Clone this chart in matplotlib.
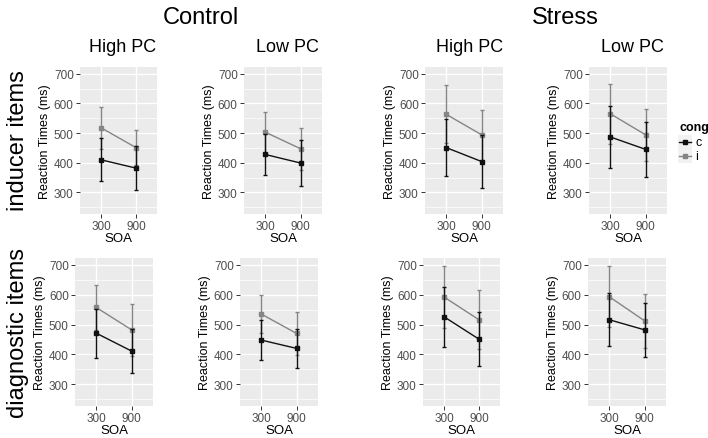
import matplotlib
matplotlib.use("Agg")
import matplotlib.pyplot as plt
from matplotlib.lines import Line2D
from matplotlib.patches import Rectangle

plt.rcParams['font.family'] = ['Liberation Sans', 'DejaVu Sans']

# SOA levels on the x axis
soa = ["300", "900"]
groups = ["Control", "Stress"]
pc_levels = ["High PC", "Low PC"]
row_names = ["inducer items", "diagnostic items"]
cong_levels = ["c", "i"]

# means / error half-widths, one pair per panel:
# Control-High, Control-Low, Stress-High, Stress-Low
inducer_c_mean = [[410, 382], [428, 399], [451, 404], [487, 445]]
inducer_c_err = [[72, 73], [70, 78], [96, 90], [103, 93]]
inducer_i_mean = [[518, 451], [503, 447], [563, 494], [565, 494]]
inducer_i_err = [[70, 60], [69, 71], [98, 85], [101, 88]]

diagnostic_c_mean = [[471, 411], [448, 420], [526, 451], [516, 482]]
diagnostic_c_err = [[82, 73], [67, 65], [101, 90], [88, 91]]
diagnostic_i_mean = [[557, 482], [535, 470], [592, 516], [593, 512]]
diagnostic_i_err = [[76, 87], [63, 73], [105, 99], [102, 91]]

y_ticks = [300, 400, 500, 600, 700]
y_minor = [250, 350, 450, 550, 650]

c_col = "#111111"
i_col = "#858585"

W, H = 708, 439
fig = plt.figure(figsize=(W / 100, H / 100), dpi=100)

# panel boxes in pixels (left, right), rows (top, bottom)
top_boxes = [(80, 157), (244, 322), (425, 503), (589, 667)]
bot_boxes = [(75, 153), (240, 318), (423, 500), (588, 666)]
row_y = [(68, 215), (259, 407)]

data = [
    (inducer_c_mean, inducer_c_err, inducer_i_mean, inducer_i_err),
    (diagnostic_c_mean, diagnostic_c_err, diagnostic_i_mean, diagnostic_i_err),
]


def fx(px):
    return px / W


def fy(py):
    return 1 - py / H


def add_panel(x0, x1, y0, y1):
    return fig.add_axes([fx(x0), fy(y1), (x1 - x0) / W, (y1 - y0) / H])


for r, boxes in enumerate([top_boxes, bot_boxes]):
    cm, ce, im, ie = data[r]
    for k, (x0, x1) in enumerate(boxes):
        ax = add_panel(x0, x1, *row_y[r])
        ax.set_facecolor("#EBEBEB")
        for s in ax.spines.values():
            s.set_visible(False)
        for v in y_minor:
            ax.axhline(v, color="white", lw=0.5, zorder=0)
        for v in y_ticks:
            ax.axhline(v, color="white", lw=1.0, zorder=0)
        for v in range(len(soa)):
            ax.axvline(v, color="white", lw=1.0, zorder=0)

        xs = list(range(len(soa)))
        ax.errorbar(xs, im[k], yerr=ie[k], color=i_col, lw=1.0, capsize=1.5,
                    capthick=1.0, marker="s", ms=3, zorder=3)
        ax.errorbar(xs, cm[k], yerr=ce[k], color=c_col, lw=1.0, capsize=1.5,
                    capthick=1.0, marker="s", ms=3, zorder=4)

        ax.set_xlim(-0.6, 1.6)
        ax.set_ylim(227.5, 722.5)
        ax.set_xticks(xs)
        ax.set_xticklabels(soa)
        ax.set_yticks(y_ticks)
        ax.tick_params(length=3, width=0.7, color="#333333", labelsize=8.5,
                       labelcolor="#4d4d4d", pad=1.5)
        ax.set_xlabel("SOA", fontsize=9.5, labelpad=0)
        ax.set_ylabel("Reaction Times (ms)", fontsize=9, labelpad=2)

# headers
fig.text(fx(201), fy(18), groups[0], ha="center", va="center", fontsize=17)
fig.text(fx(565), fy(18), groups[1], ha="center", va="center", fontsize=17)
for xc, lab in zip([123, 287, 470, 632], pc_levels * 2):
    fig.text(fx(xc), fy(47), lab, ha="center", va="center", fontsize=13)

fig.text(fx(18), fy(141), row_names[0], rotation=90, ha="center",
         va="center", fontsize=17)
fig.text(fx(18), fy(333), row_names[1], rotation=90, ha="center",
         va="center", fontsize=17)

# legend (drawn by hand, ggplot style)
fig.text(fx(679), fy(128), "cong", ha="left", va="center", fontsize=9,
         fontweight="bold")
fig.add_artist(Rectangle((fx(678), fy(164)), 14 / W, 28 / H,
                         transform=fig.transFigure, facecolor="#F2F2F2",
                         edgecolor="none"))
for j, (lab, col) in enumerate(zip(cong_levels, [c_col, i_col])):
    yy = 143 + 14 * j
    fig.add_artist(Line2D([fx(679), fx(691)], [fy(yy), fy(yy)], color=col,
                          lw=1.0, transform=fig.transFigure))
    fig.add_artist(Line2D([fx(685)], [fy(yy)], color=col, marker="s", ms=3,
                          transform=fig.transFigure))
    fig.text(fx(695), fy(yy), lab, ha="left", va="center", fontsize=9)

fig.savefig("out.png", dpi=100)
